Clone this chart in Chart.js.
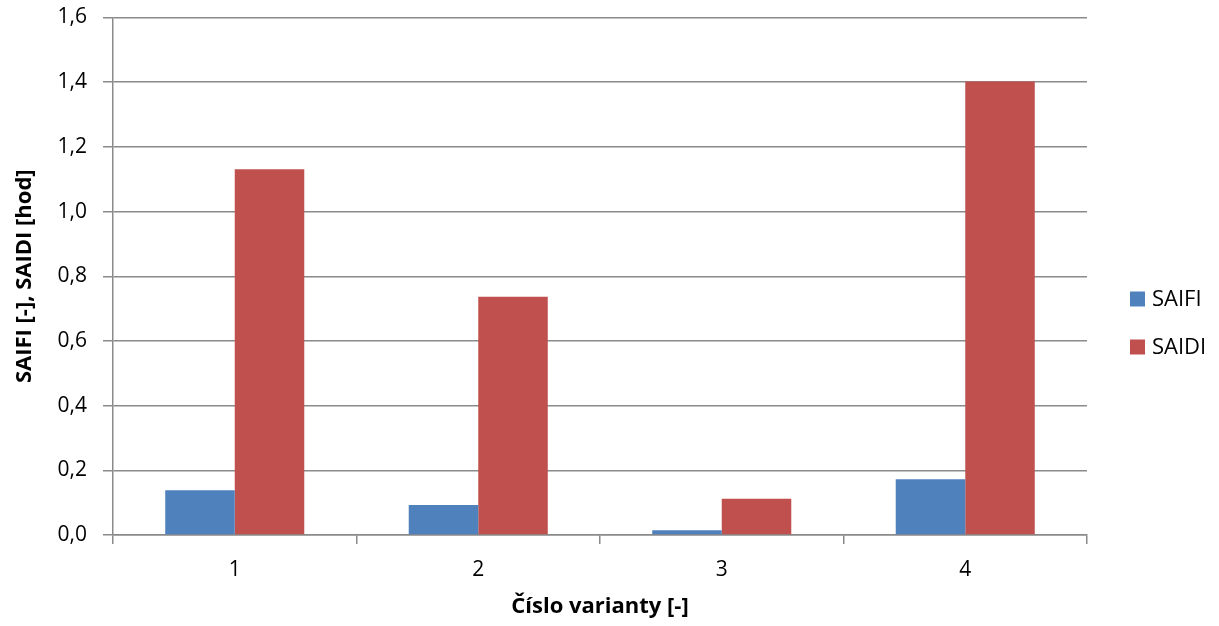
<!DOCTYPE html>
<html>
<head>
<meta charset="utf-8">
<script src="https://cdn.jsdelivr.net/npm/chart.js@4"></script>
<style>
  html, body { margin: 0; padding: 0; background: #ffffff; }
  #wrap { width: 1219px; height: 626px; }
</style>
</head>
<body>
<div id="wrap"><canvas id="c" width="1219" height="626"></canvas></div>
<script>
// Reliability indices per variant
const categories = ['1', '2', '3', '4'];
const saifi = [0.138, 0.093, 0.015, 0.172];
const saidi = [1.131, 0.737, 0.112, 1.402];
const seriesNames = ['SAIFI', 'SAIDI'];
const seriesColors = ['#4F81BD', '#C0504D'];
const yTickLabels = ['0,0', '0,2', '0,4', '0,6', '0,8', '1,0', '1,2', '1,4', '1,6'];

const FONT = '"Open Sans", "Liberation Sans", sans-serif';
const GRID = '#8a8a8a';

// Legend drawn at the right of the plot, square swatch + label
const sideLegend = {
  id: 'sideLegend',
  afterDraw(chart) {
    const ctx = chart.ctx;
    const area = chart.chartArea;
    ctx.save();
    ctx.font = '22px ' + FONT;
    ctx.textBaseline = 'middle';
    ctx.textAlign = 'left';
    chart.data.datasets.forEach((ds, i) => {
      const cy = 299 + i * 48;
      const x = area.right + 43;
      ctx.fillStyle = ds.backgroundColor;
      ctx.fillRect(x, cy - 7.5, 15, 15);
      ctx.fillStyle = '#000000';
      ctx.fillText(ds.label, x + 22, cy + 1);
    });
    ctx.restore();
  }
};

new Chart(document.getElementById('c'), {
  type: 'bar',
  data: {
    labels: categories,
    datasets: [
      { label: seriesNames[0], data: saifi, backgroundColor: seriesColors[0], borderWidth: 0 },
      { label: seriesNames[1], data: saidi, backgroundColor: seriesColors[1], borderWidth: 0 }
    ]
  },
  options: {
    responsive: false,
    animation: false,
    devicePixelRatio: 1,
    layout: { padding: { left: 0, right: 132, top: 17.5, bottom: 0 } },
    datasets: { bar: { categoryPercentage: 0.571, barPercentage: 1.0 } },
    plugins: {
      legend: { display: false },
      tooltip: { enabled: false }
    },
    scales: {
      x: {
        grid: { display: true, drawOnChartArea: false, drawTicks: true, tickLength: 9,
                color: GRID, lineWidth: 1.5, offset: true },
        border: { display: true, color: GRID, width: 1.5 },
        ticks: { color: '#000000', font: { family: FONT, size: 21 }, padding: 13 },
        title: { display: true, text: 'Číslo varianty [-]', color: '#000000',
                 font: { family: FONT, size: 22, weight: 'bold' },
                 padding: { top: 0, bottom: 6 } },
        afterFit(scale) {
          scale.height = 91;
          scale.paddingLeft = 0;
          scale.paddingRight = 0;
        }
      },
      y: {
        min: 0,
        max: 1.6,
        ticks: {
          stepSize: 0.2,
          color: '#000000',
          font: { family: FONT, size: 21 },
          padding: 16,
          callback: (v, i) => yTickLabels[i]
        },
        grid: { color: GRID, lineWidth: 1.5, drawTicks: true, tickLength: 10 },
        border: { display: true, color: GRID, width: 1.5 },
        title: { display: true, text: 'SAIFI [-], SAIDI [hod]', color: '#000000',
                 font: { family: FONT, size: 22, weight: 'bold' },
                 padding: { top: 12, bottom: 0 } },
        afterFit(scale) {
          scale.width = 113;
          scale.paddingTop = 0;
          scale.paddingBottom = 0;
        }
      }
    }
  },
  plugins: [sideLegend]
});
</script>
</body>
</html>
